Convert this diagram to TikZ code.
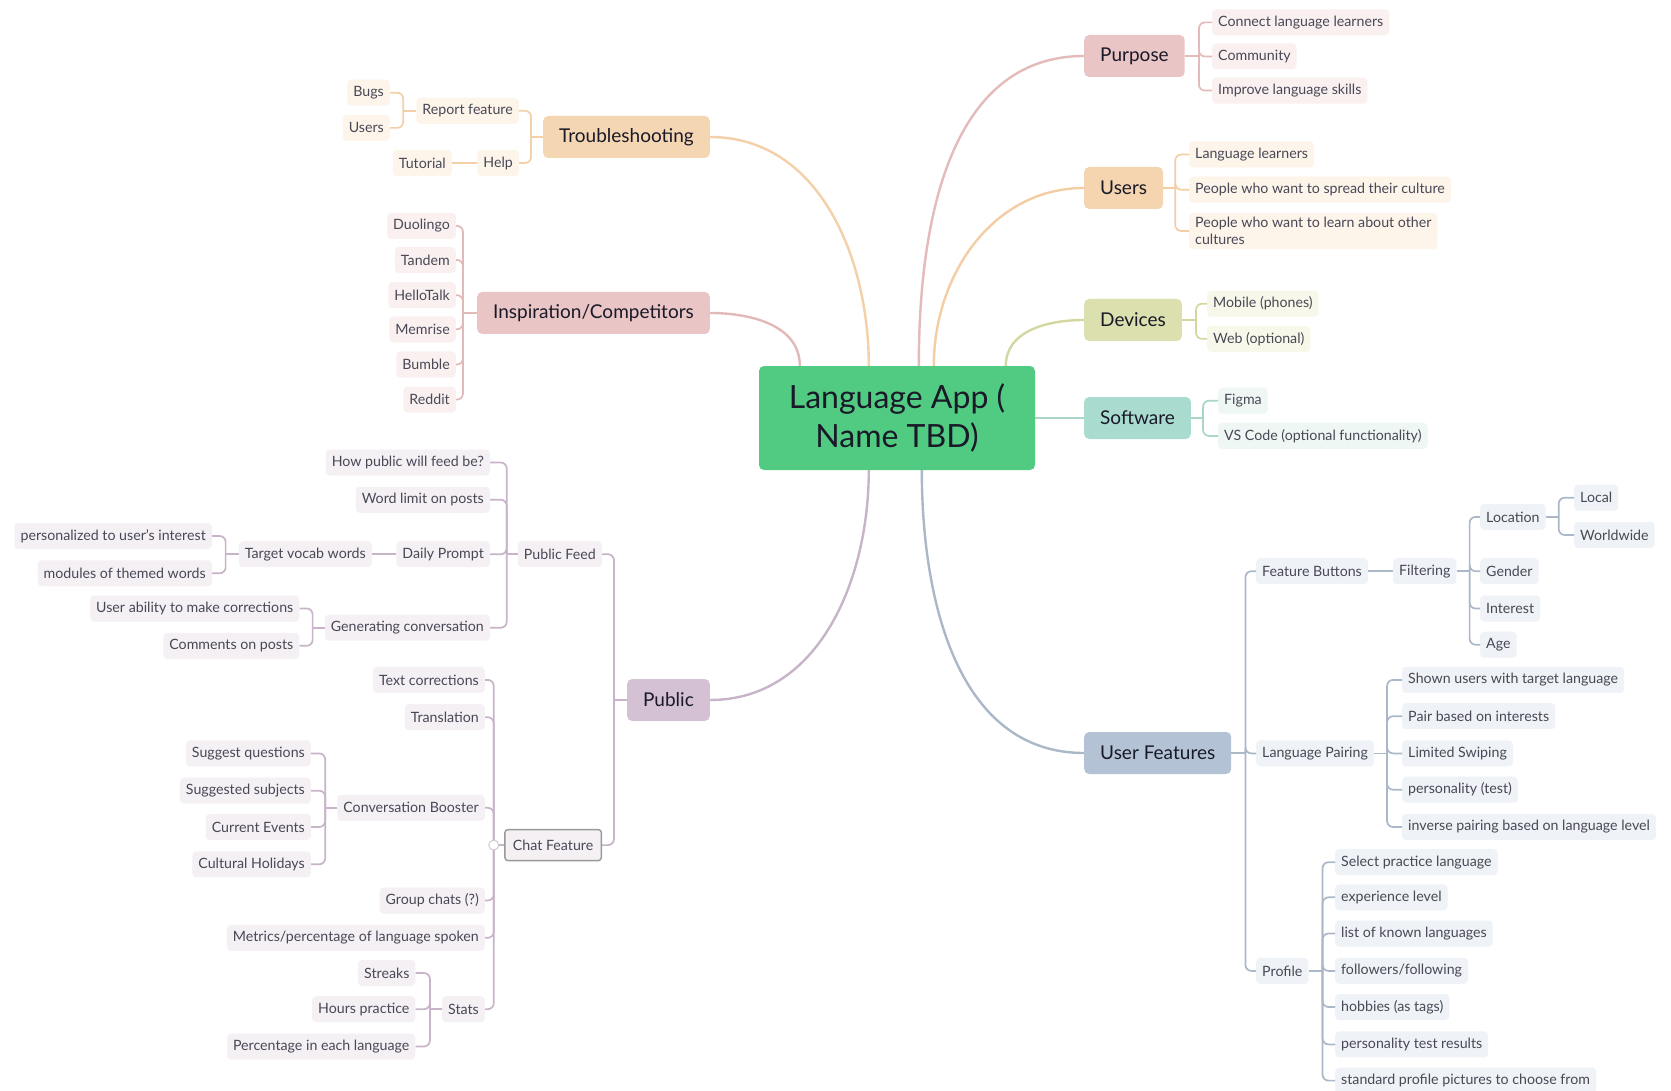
\documentclass[tikz,border=0pt]{standalone}
\usepackage{fontspec}
\setmainfont{Lato}
\usetikzlibrary{calc}
\definecolor{cgreen}{RGB}{82,203,130}
\definecolor{txt}{RGB}{72,72,86}
\definecolor{ttxt}{RGB}{25,25,40}
\definecolor{fP}{RGB}{233,197,197}\definecolor{lP}{RGB}{229,186,186}\definecolor{pP}{RGB}{250,240,240}
\definecolor{fU}{RGB}{245,213,176}\definecolor{lU}{RGB}{244,205,164}\definecolor{pU}{RGB}{253,244,234}
\definecolor{fD}{RGB}{220,223,174}\definecolor{lD}{RGB}{212,216,160}\definecolor{pD}{RGB}{248,248,234}
\definecolor{fS}{RGB}{169,220,207}\definecolor{lS}{RGB}{168,214,200}\definecolor{pS}{RGB}{238,247,244}
\definecolor{fF}{RGB}{179,195,213}\definecolor{lF}{RGB}{170,184,200}\definecolor{pF}{RGB}{239,242,246}
\definecolor{fT}{RGB}{245,214,179}\definecolor{lT}{RGB}{244,208,168}\definecolor{pT}{RGB}{253,244,234}
\definecolor{fI}{RGB}{233,197,197}\definecolor{lI}{RGB}{225,185,185}\definecolor{pI}{RGB}{250,240,240}
\definecolor{fQ}{RGB}{212,194,212}\definecolor{lQ}{RGB}{200,180,200}\definecolor{pQ}{RGB}{244,240,244}
\newcommand{\brR}[3]{%
  \coordinate (#1j) at ($(#1.east)+(#2,0)$);
  \draw (#1.east) -- (#1j);
  \foreach \k in {#3}{\draw[rounded corners=6pt] (#1j) |- (\k.west);}}
\newcommand{\brL}[3]{%
  \coordinate (#1j) at ($(#1.west)+(-#2,0)$);
  \draw (#1.west) -- (#1j);
  \foreach \k in {#3}{\draw[rounded corners=6pt] (#1j) |- (\k.east);}}
\begin{document}
\begin{tikzpicture}[x=1pt,y=-1pt,
  leaf/.style={rounded corners=4pt, inner xsep=6pt, inner ysep=2pt, minimum height=26pt,
    font=\fontsize{14.2}{17}\selectfont, text=txt},
  lr/.style={leaf, anchor=west},
  ll/.style={leaf, anchor=east},
  topic/.style={rounded corners=5pt, inner xsep=16pt, minimum height=42pt,
    font=\fontsize{19}{22}\selectfont, text=ttxt},
  main/.style={line width=2.4pt},
  br/.style={line width=1.7pt}]
\useasboundingbox (0,0) rectangle (1671,1091);
\fill[white] (0,0) rectangle (1671,1091);

% centre
\node[rounded corners=5pt, fill=cgreen, minimum width=276pt, minimum height=104pt, align=center,
  font=\fontsize{32}{39}\selectfont, text=ttxt] (C) at (897,418) {Language App (\\Name TBD)};

% main topics
\node[topic, fill=fP, anchor=west] (P) at (1084,56) {Purpose};
\node[topic, fill=fU, anchor=west] (U) at (1084,188) {Users};
\node[topic, fill=fD, anchor=west] (D) at (1084,320) {Devices};
\node[topic, fill=fS, anchor=west] (S) at (1084,418) {Software};
\node[topic, fill=fF, anchor=west] (F) at (1084,753) {User Features};
\node[topic, fill=fT, anchor=east] (T) at (710,137) {Troubleshooting};
\node[topic, fill=fI, anchor=east] (I) at (710,313) {Inspiration/Competitors};
\node[topic, fill=fQ, anchor=east] (PU) at (710,700) {Public};

% main connectors
\coordinate (cP) at ($(C.north west)+(160,0)$);
\coordinate (cU) at ($(C.north west)+(175,0)$);
\coordinate (cD) at ($(C.north west)+(247,0)$);
\coordinate (cT) at ($(C.north west)+(110,0)$);
\coordinate (cI) at ($(C.north west)+(41,0)$);
\coordinate (cF) at ($(C.south west)+(163,0)$);
\coordinate (cQ) at ($(C.south west)+(110,0)$);
\draw[main, lP] (cP) to[out=90,in=180] (P.west);
\draw[main, lU] (cU) to[out=90,in=180] (U.west);
\draw[main, lD] (cD) to[out=90,in=180] (D.west);
\draw[main, lS] (C.east) -- (S.west);
\draw[main, lF] (cF) to[out=-90,in=180] (F.west);
\draw[main, lT] (cT) to[out=90,in=0] (T.east);
\draw[main, lI] (cI) to[out=90,in=0] (I.east);
\draw[main, lQ] (cQ) to[out=-90,in=0] (PU.east);

% Purpose
\node[lr, fill=pP] (P1) at (1212,22.4) {Connect language learners};
\node[lr, fill=pP] (P2) at (1212,56.5) {Community};
\node[lr, fill=pP] (P3) at (1212,90.6) {Improve language skills};
\begin{scope}[br, lP]\brR{P}{14}{P1,P2,P3}\end{scope}

% Users
\node[lr, fill=pU] (U1) at (1189,154.5) {Language learners};
\node[lr, fill=pU] (U2) at (1189,189.7) {People who want to spread their culture};
\node[lr, fill=pU, align=left, font=\fontsize{14.2}{17.5}\selectfont, inner ysep=4pt] (U3) at (1189,231) {People who want to learn about other\\cultures};
\begin{scope}[br, lU]\brR{U}{12}{U1,U2,U3}\end{scope}

% Devices
\node[lr, fill=pD] (D1) at (1207,303.7) {Mobile (phones)};
\node[lr, fill=pD] (D2) at (1207,338.9) {Web (optional)};
\begin{scope}[br, lD]\brR{D}{14}{D1,D2}\end{scope}

% Software
\node[lr, fill=pS] (S1) at (1218,400.7) {Figma};
\node[lr, fill=pS] (S2) at (1218,435.9) {VS Code (optional functionality)};
\begin{scope}[br, lS]\brR{S}{12}{S1,S2}\end{scope}

% User Features
\node[lr, fill=pF] (FB) at (1256,571.2) {Feature Buttons};
\node[lr, fill=pF] (LP) at (1256,753.4) {Language Pairing};
\node[lr, fill=pF] (PR) at (1256,970.9) {Profile};
\node[lr, fill=pF] (FI) at (1393,571.2) {Filtering};
\node[lr, fill=pF] (LO) at (1480,516.9) {Location};
\node[lr, fill=pF] (GE) at (1480,571.2) {Gender};
\node[lr, fill=pF] (IN) at (1480,608.5) {Interest};
\node[lr, fill=pF] (AG) at (1480,644.7) {Age};
\node[lr, fill=pF] (LC) at (1574,497.7) {Local};
\node[lr, fill=pF] (WW) at (1574,535) {Worldwide};
\node[lr, fill=pF] (L1) at (1402,679.9) {Shown users with target language};
\node[lr, fill=pF] (L2) at (1402,716.2) {Pair based on interests};
\node[lr, fill=pF] (L3) at (1402,753.4) {Limited Swiping};
\node[lr, fill=pF] (L4) at (1402,789.7) {personality (test)};
\node[lr, fill=pF] (L5) at (1402,827) {inverse pairing based on language level};
\node[lr, fill=pF] (R1) at (1335,862.2) {Select practice language};
\node[lr, fill=pF] (R2) at (1335,897.3) {experience level};
\node[lr, fill=pF] (R3) at (1335,933.5) {list of known languages};
\node[lr, fill=pF] (R4) at (1335,970.9) {followers/following};
\node[lr, fill=pF] (R5) at (1335,1007) {hobbies (as tags)};
\node[lr, fill=pF] (R6) at (1335,1044.4) {personality test results};
\node[lr, fill=pF] (R7) at (1335,1080.6) {standard profile pictures to choose from};
\begin{scope}[br, lF]
\brR{F}{14}{FB,LP,PR}
\draw (FB.east) -- (FI.west);
\brR{FI}{13}{LO,GE,IN,AG}
\brR{LO}{13}{LC,WW}
\brR{LP}{13}{L1,L2,L3,L4,L5}
\brR{PR}{14}{R1,R2,R3,R4,R5,R6,R7}
\end{scope}

% Troubleshooting
\node[ll, fill=pT] (TR) at (519,110.8) {Report feature};
\node[ll, fill=pT] (TH) at (519,163) {Help};
\node[ll, fill=pT] (TB) at (390,92.7) {Bugs};
\node[ll, fill=pT] (TU) at (390,127.9) {Users};
\node[ll, fill=pT] (TT) at (452,163) {Tutorial};
\begin{scope}[br, lT]
\brL{T}{12}{TR,TH}
\brL{TR}{13}{TB,TU}
\draw (TH.west) -- (TT.east);
\end{scope}

% Inspiration
\node[ll, fill=pI] (I1) at (456,225.9) {Duolingo};
\node[ll, fill=pI] (I2) at (456,260) {Tandem};
\node[ll, fill=pI] (I3) at (456,295.2) {HelloTalk};
\node[ll, fill=pI] (I4) at (456,329.3) {Memrise};
\node[ll, fill=pI] (I5) at (456,364.5) {Bumble};
\node[ll, fill=pI] (I6) at (456,399.6) {Reddit};
\begin{scope}[br, lI]\brL{I}{14}{I1,I2,I3,I4,I5,I6}\end{scope}

% Public
\node[ll, fill=pQ] (PF) at (602,554.2) {Public Feed};
\node[ll, fill=pQ, draw=gray!80, line width=1.4pt, rounded corners=3pt, minimum height=31pt, inner xsep=8pt] (CF) at (602,845.1) {Chat Feature};
\node[ll, fill=pQ] (F1) at (490,462.5) {How public will feed be?};
\node[ll, fill=pQ] (F2) at (490,499.8) {Word limit on posts};
\node[ll, fill=pQ] (DP) at (490,554.2) {Daily Prompt};
\node[ll, fill=pQ] (GC) at (490,627.7) {Generating conversation};
\node[ll, fill=pQ] (TV) at (372,554.2) {Target vocab words};
\node[ll, fill=pQ] (V1) at (212,536) {personalized to user's interest};
\node[ll, fill=pQ] (V2) at (212,573.3) {modules of themed words};
\node[ll, fill=pQ] (G1) at (299.5,608.5) {User ability to make corrections};
\node[ll, fill=pQ] (G2) at (299.5,645.8) {Comments on posts};
\node[ll, fill=pQ] (C1) at (485,679.9) {Text corrections};
\node[ll, fill=pQ] (C2) at (485,717.2) {Translation};
\node[ll, fill=pQ] (CB) at (485,807.8) {Conversation Booster};
\node[ll, fill=pQ] (C4) at (485,900.5) {Group chats (?)};
\node[ll, fill=pQ] (C5) at (485,937.8) {Metrics/percentage of language spoken};
\node[ll, fill=pQ] (ST) at (485,1009.2) {Stats};
\node[ll, fill=pQ] (B1) at (311,753.4) {Suggest questions};
\node[ll, fill=pQ] (B2) at (311,790.7) {Suggested subjects};
\node[ll, fill=pQ] (B3) at (311,827) {Current Events};
\node[ll, fill=pQ] (B4) at (311,864.3) {Cultural Holidays};
\node[ll, fill=pQ] (K1) at (415.6,973) {Streaks};
\node[ll, fill=pQ] (K2) at (415.6,1009.2) {Hours practice};
\node[ll, fill=pQ] (K3) at (415.6,1046.5) {Percentage in each language};
\begin{scope}[br, lQ]
\brL{PU}{13}{PF,CF}
\brL{PF}{11}{F1,F2,DP,GC}
\draw (DP.west) -- (TV.east);
\brL{TV}{13}{V1,V2}
\brL{GC}{12}{G1,G2}
\brL{CF}{10.5}{C1,C2,CB,C4,C5,ST}
\brL{CB}{12}{B1,B2,B3,B4}
\brL{ST}{12}{K1,K2,K3}
\end{scope}
\node[circle, draw=gray!40, fill=white, line width=1pt, minimum size=10pt, inner sep=0pt] (CFc) at (CFj) {};
\end{tikzpicture}
\end{document}
